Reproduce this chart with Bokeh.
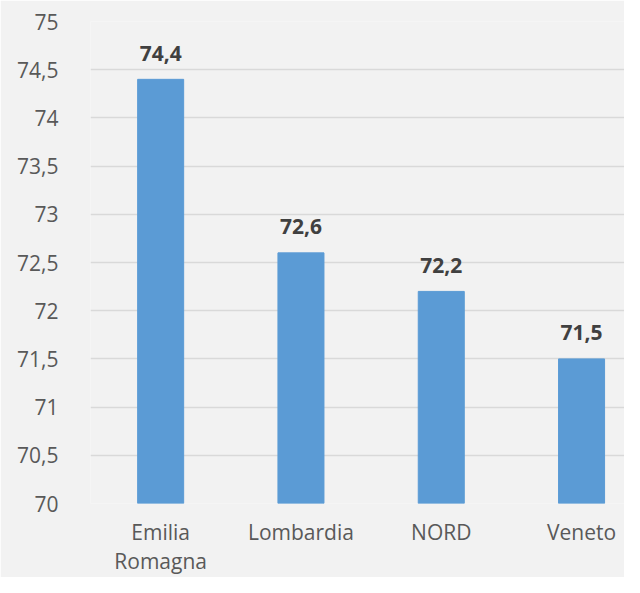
from bokeh.plotting import figure
from bokeh.models import FixedTicker, ColumnDataSource, Range1d
from bokeh.core.properties import value
from bokeh.embed import file_html
from bokeh.resources import INLINE

categories = ["Emilia\nRomagna", "Lombardia", "NORD", "Veneto"]
values = [74.4, 72.6, 72.2, 71.5]
y_ticks = [70, 70.5, 71, 71.5, 72, 72.5, 73, 73.5, 74, 74.5, 75]

def fmt(v):
    s = ("%g" % v)
    return s.replace(".", ",")

xs = [i + 0.5 for i in range(len(categories))]
src = ColumnDataSource(dict(x=xs, top=values, label=[fmt(v) for v in values]))

FONT = "Open Sans"
BG = "#F2F2F2"

p = figure(width=624, height=577, output_backend="svg", toolbar_location=None,
           x_range=Range1d(0, 3.806), y_range=Range1d(70, 75),
           background_fill_color=BG, border_fill_color=BG,
           min_border_left=90, min_border_top=21, min_border_bottom=60, min_border_right=0)
p.outline_line_color = None

p.vbar(x="x", top="top", bottom=70, width=0.328, source=src,
       fill_color="#5B9BD5", line_color="#5B9BD5")
p.text(x="x", y="top", text="label", source=src, text_align="center",
       text_baseline="alphabetic", y_offset=-26, text_font=value(FONT),
       text_font_size="21px", text_font_style="bold", text_color="#404040")

p.yaxis.ticker = FixedTicker(ticks=y_ticks)
p.yaxis.major_label_overrides = {t: fmt(t) for t in y_ticks}
p.xaxis.ticker = FixedTicker(ticks=xs)
p.xaxis.major_label_overrides = {x: c for x, c in zip(xs, categories)}

for ax in (p.xaxis, p.yaxis):
    ax.axis_line_color = None
    ax.major_tick_line_color = None
    ax.minor_tick_line_color = None
    ax.major_label_text_font = FONT
    ax.major_label_text_font_size = "21px"
    ax.major_label_text_color = "#595959"
p.yaxis.major_label_standoff = 26
p.xaxis.major_label_standoff = 8
p.xaxis.major_label_text_line_height = 1.05

p.xgrid.grid_line_color = None
p.ygrid.grid_line_color = "#D9D9D9"
p.ygrid.grid_line_width = 1.5

open("out.html", "w").write(file_html(p, INLINE))
